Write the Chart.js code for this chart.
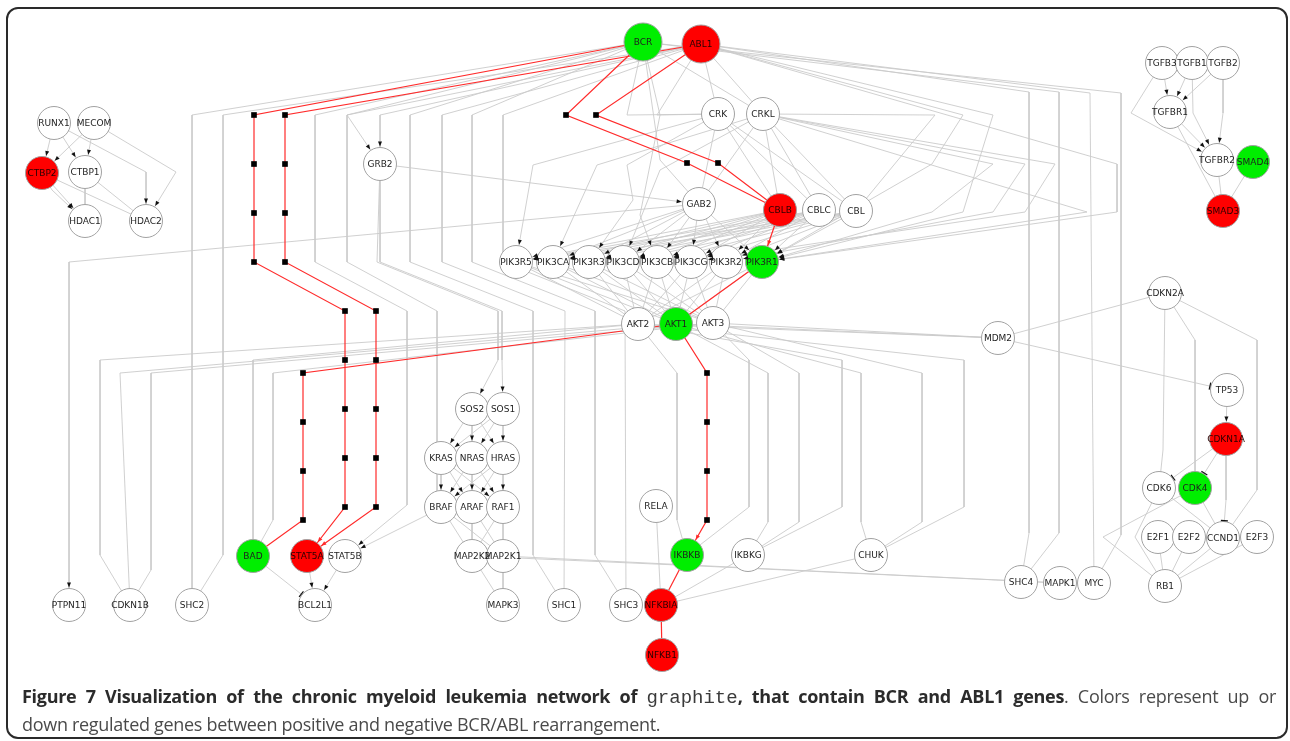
<!DOCTYPE html>
<html>
<head>
<meta charset="utf-8">
<script src="https://cdn.jsdelivr.net/npm/chart.js@4.4.1/dist/chart.umd.min.js"></script>
<style>
  body { margin: 0; background: #fff; width: 1290px; height: 741px; overflow: hidden; position: relative; }
  #net { position: absolute; left: 0; top: 0; }
  #frame { position: absolute; left: 6px; top: 7px; width: 1282px; height: 732px; box-sizing: border-box;
           border: 2px solid #2a2a2a; border-radius: 12px; pointer-events: none; }
  #caption { position: absolute; left: 22px; top: 683px; width: 1254px; font-family: "Open Sans", sans-serif;
             font-size: 18px; line-height: 26px; color: #4a4a4a; letter-spacing: -0.3px; }
  #caption .l1 { text-align: justify; text-align-last: justify; }
  #caption b { color: #2b2b2b; font-weight: 700; }
  #caption .mono { font-family: "Liberation Mono", monospace; font-weight: 400; color: #3a3a3a; font-size: 19px; letter-spacing: 0; }
</style>
</head>
<body>
<canvas id="net" width="1290" height="741"></canvas>
<div id="frame"></div>
<div id="caption">
  <div class="l1"><b>Figure 7 Visualization of the chronic myeloid leukemia network of <span class="mono">graphite</span>, that contain BCR and ABL1 genes</b>. Colors represent up or</div>
  <div class="l2">down regulated genes between positive and negative BCR/ABL rearrangement.</div>
</div>
<script>
// Nodes of the network (positions)
const nodeNames = [
  'BCR', 'ABL1',
  'RUNX1', 'MECOM', 'CTBP2', 'CTBP1', 'HDAC1', 'HDAC2',
  'GRB2', 'CRK', 'CRKL', 'GAB2', 'CBLB', 'CBLC', 'CBL',
  'PIK3R5', 'PIK3CA', 'PIK3R3', 'PIK3CD', 'PIK3CB', 'PIK3CG', 'PIK3R2', 'PIK3R1',
  'AKT2', 'AKT1', 'AKT3', 'MDM2',
  'CDKN2A', 'TP53', 'CDKN1A', 'CDK6', 'CDK4', 'E2F1', 'E2F2', 'CCND1', 'E2F3', 'RB1',
  'SHC4', 'MAPK1', 'MYC', 'CHUK', 'IKBKG', 'IKBKB', 'RELA', 'NFKBIA', 'NFKB1',
  'SHC3', 'SHC1', 'MAPK3', 'MAP2K2', 'MAP2K1', 'BRAF', 'ARAF', 'RAF1',
  'KRAS', 'NRAS', 'HRAS', 'SOS2', 'SOS1',
  'BAD', 'STAT5A', 'STAT5B', 'BCL2L1', 'PTPN11', 'CDKN1B', 'SHC2',
  'TGFB3', 'TGFB1', 'TGFB2', 'TGFBR1', 'TGFBR2', 'SMAD4', 'SMAD3'
];
const nodeX = [
  643, 701,
  54, 94, 42, 85, 85, 146,
  380, 718, 763, 699, 780, 819, 856,
  516, 553, 589, 623, 657, 691, 726, 762,
  638, 676, 713, 998,
  1165, 1227, 1226, 1159, 1195, 1158, 1189, 1223, 1257, 1165,
  1021, 1060, 1094, 871, 748, 687, 656, 661, 662,
  626, 564, 503, 472, 503, 441, 472, 503,
  441, 472, 503, 472, 503,
  253, 307, 345, 315, 69, 130, 192,
  1162, 1192, 1223, 1170, 1217, 1253, 1223
];
const nodeY = [
  42, 44,
  123, 123, 173, 172, 221, 221,
  164, 114, 114, 204, 210, 210, 211,
  262, 262, 262, 262, 262, 262, 262, 262,
  324, 324, 323, 338,
  293, 390, 439, 488, 488, 537, 537, 538, 537, 586,
  582, 583, 583, 555, 555, 555, 506, 605, 655,
  605, 605, 605, 556, 556, 507, 507, 507,
  458, 458, 458, 409, 409,
  556, 556, 556, 605, 605, 605, 605,
  63, 63, 63, 112, 160, 162, 211
];
// 1 = red, -1 = green, 0 = not regulated
const nodeReg = [
  -1, 1,
  0, 0, 1, 0, 0, 0,
  0, 0, 0, 0, 1, 0, 0,
  0, 0, 0, 0, 0, 0, 0, -1,
  0, -1, 0, 0,
  0, 0, 1, 0, -1, 0, 0, 0, 0, 0,
  0, 0, 0, 0, 0, -1, 0, 1, 1,
  0, 0, 0, 0, 0, 0, 0, 0,
  0, 0, 0, 0, 0,
  -1, 1, 0, 0, 0, 0, 0,
  0, 0, 0, 0, 0, -1, 1
];

// Edges: [from, to, kind, bend points]; kind '>' activation, '|' inhibition, '-' plain
const redEdges = [
  ['BCR', 'STAT5A', '>', [[254,115],[254,164],[254,213],[254,262],[345,311],[345,360],[345,409],[345,458],[345,507]]],
  ['ABL1', 'STAT5A', '>', [[285,115],[285,164],[285,213],[285,262],[376,311],[376,360],[376,409],[376,458],[376,507]]],
  ['BCR', 'CBLB', '-', [[566,115],[687,163]]],
  ['ABL1', 'CBLB', '-', [[596,115],[718,163]]],
  ['CBLB', 'PIK3R1', '>'],
  ['PIK3R1', 'AKT1', '-'],
  ['AKT1', 'BAD', '-', [[303,373],[303,422],[303,471],[303,520]]],
  ['AKT1', 'IKBKB', '>', [[707,373],[707,422],[707,471],[707,520]]],
  ['IKBKB', 'NFKBIA', '-'],
  ['NFKBIA', 'NFKB1', '-']
];

const pik3 = ['PIK3R5', 'PIK3CA', 'PIK3R3', 'PIK3CD', 'PIK3CB', 'PIK3CG', 'PIK3R2', 'PIK3R1'];
const akts = ['AKT2', 'AKT1', 'AKT3'];
const cbls = ['CBLB', 'CBLC', 'CBL'];
const rasGenes = ['KRAS', 'NRAS', 'HRAS'];
const rafGenes = ['BRAF', 'ARAF', 'RAF1'];

const grayEdges = [
  // CTBP / HDAC cluster
  ['RUNX1','CTBP2','>'], ['RUNX1','CTBP1','>'], ['RUNX1','HDAC2','>',[[146,172]]],
  ['MECOM','CTBP2','>'], ['MECOM','CTBP1','>'], ['MECOM','HDAC2','>',[[176,172]]],
  ['CTBP2','HDAC1','>'], ['CTBP2','HDAC1','>',[[52,190]]], ['CTBP1','HDAC1','-'],
  ['CTBP2','HDAC2','-'], ['CTBP1','HDAC2','-'],
  // BCR / ABL1 fan to the left
  ['BCR','SHC2','-',[[192,115]]],
  ['ABL1','SHC2','-',[[223,115],[223,555]]],
  ['BCR','STAT5B','>',[[315,115],[315,262],[407,311],[407,505]]],
  ['ABL1','STAT5B','>',[[347,115],[347,262],[437,311],[437,510]]],
  ['BCR','GRB2','>',[[347,115]]],
  ['ABL1','GRB2','>',[[380,115]]],
  ['BCR','SHC1','-',[[410,115],[410,262],[533,311],[533,555]]],
  ['ABL1','SHC1','-',[[442,115],[442,262],[565,311]]],
  ['BCR','SHC3','-',[[472,115],[472,262],[595,311],[595,555]]],
  ['ABL1','SHC3','-',[[503,115],[503,262],[625,311]]],
  // GRB2 / GAB2
  ['GRB2','GAB2','>'],
  ['GRB2','SOS2','>',[[377,262],[498,311],[498,360]]],
  ['GRB2','SOS1','>',[[380,262],[502,311],[502,360]]],
  ['GAB2','PTPN11','>',[[69,262]]],
  // BCR / ABL1 to CRK, CRKL
  ['BCR','CRK','-',[[627,115]]], ['BCR','CRKL','-'], ['ABL1','CRK','-'], ['ABL1','CRKL','-'],
  ['ABL1','CRK','-',[[657,115]]], ['BCR','GAB2','-',[[660,160]]],
  ['CRK','GAB2','-'], ['CRKL','GAB2','-'],
  ['CRK','CBLB','-'], ['CRK','CBLC','-'], ['CRK','CBL','-'],
  ['CRKL','CBLB','-'], ['CRKL','CBLC','-'], ['CRKL','CBL','-'],
  ['CRK','PIK3R5','>',[[533,165]]], ['CRKL','PIK3CA','>',[[597,165]]],
  ['CRK','PIK3R3','>',[[627,165],[633,200]]], ['CRKL','PIK3CD','>',[[660,170]]],
  ['BCR','PIK3CB','>',[[660,115],[640,215]]],
  // loops on the right back into PIK3R1 / PIK3R2
  ['ABL1','PIK3R1','>',[[963,115],[932,164]]],
  ['ABL1','PIK3R1','>',[[993,115],[963,212]]],
  ['CRKL','PIK3R1','>',[[993,164],[932,212]]],
  ['CRKL','PIK3R2','>',[[1025,164],[993,212]]],
  ['CRKL','PIK3CG','>',[[1055,164],[1025,212]]],
  ['ABL1','PIK3R1','>',[[1117,164],[1117,212]]],
  ['CRKL','PIK3R1','>',[[1087,212]]],
  ['CRKL','CBL','-',[[935,115]]],
  // BCR / ABL1 fan to the right
  ['ABL1','SHC4','-',[[1029,92],[1029,533]]],
  ['BCR','SHC4','-',[[1059,92],[1059,533]]],
  ['ABL1','MYC','-',[[1090,93]]],
  ['BCR','MYC','-',[[1121,93],[1121,535]]],
  // AKT targets
  ['AKT2','CDKN1B','-',[[100,360],[100,555]]],
  ['AKT1','CDKN1B','-',[[120,373]]],
  ['AKT3','CDKN1B','-',[[151,373],[151,570]]],
  ['AKT2','BAD','-',[[253,360]]],
  ['AKT3','BAD','-',[[273,373],[273,520]]],
  ['AKT2','IKBKB','-',[[677,373],[677,520]]],
  ['AKT3','IKBKB','-',[[749,360],[749,507]]],
  ['AKT1','IKBKG','-',[[768,373],[768,522]]],
  ['AKT3','IKBKG','-',[[799,373],[799,522]]],
  ['AKT2','IKBKG','-',[[842,360],[842,507]]],
  ['AKT1','CHUK','-',[[861,373],[861,522]]],
  ['AKT3','CHUK','-',[[922,373],[922,522]]],
  ['AKT2','CHUK','-',[[964,360],[964,507]]],
  ['AKT1','MDM2','-'], ['AKT2','MDM2','-'], ['AKT3','MDM2','-'],
  // MAPK cascade
  ['MAP2K2','MAPK3','-'], ['MAP2K1','MAPK3','-'],
  ['MAP2K1','MAPK1','-'], ['MAP2K2','MAPK1','-',[[700,566]]],
  // NF-kB
  ['RELA','NFKBIA','-'], ['IKBKG','NFKBIA','-'], ['CHUK','NFKBIA','-'],
  // STAT5 / BCL2L1
  ['STAT5A','BCL2L1','>'], ['STAT5B','BCL2L1','>'], ['BAD','BCL2L1','|'],
  // p53 / cell cycle
  ['CDKN2A','MDM2','-'], ['MDM2','TP53','|'], ['TP53','CDKN1A','>'],
  ['CDKN2A','CDK6','-',[[1163,450]]], ['CDKN2A','CDK4','-',[[1195,340]]],
  ['CDKN2A','CCND1','-',[[1257,340],[1257,490]]],
  ['CDKN1A','CDK6','|'], ['CDKN1A','CDK4','|'], ['CDKN1A','CCND1','|',[[1226,500]]],
  ['CDK6','CCND1','-'], ['CDK4','CCND1','-'],
  ['CDK6','RB1','-',[[1135,537]]], ['CDK4','RB1','-',[[1103,537]]],
  ['CCND1','RB1','-'], ['E2F1','RB1','-'], ['E2F2','RB1','-'], ['E2F3','RB1','-'],
  // TGF-beta
  ['TGFB3','TGFBR1','>'], ['TGFB1','TGFBR1','>'], ['TGFB2','TGFBR1','>'],
  ['TGFB3','TGFBR2','>',[[1131,113]]], ['TGFB1','TGFBR2','>',[[1193,113]]], ['TGFB2','TGFBR2','>',[[1223,113]]],
  ['TGFBR1','TGFBR2','>'], ['TGFBR1','SMAD3','-'], ['TGFBR2','SMAD3','-'], ['SMAD4','SMAD3','-']
];

// dense groups: GAB2 and CBLs to every PIK3, every PIK3 to every AKT
pik3.forEach(p => grayEdges.push(['GAB2', p, '>']));
cbls.forEach(c => pik3.forEach(p => { if (!(c === 'CBLB' && p === 'PIK3R1')) grayEdges.push([c, p, '>']); }));
pik3.forEach(p => akts.forEach(a => grayEdges.push([p, a, '-'])));
['SOS2', 'SOS1'].forEach(s => rasGenes.forEach(r => grayEdges.push([s, r, '>'])));
rasGenes.forEach(r => rafGenes.forEach(f => grayEdges.push([r, f, '>'])));
rafGenes.forEach(f => ['MAP2K2', 'MAP2K1'].forEach(m => grayEdges.push([f, m, '-'])));

const nodeIndex = {};
nodeNames.forEach((n, i) => nodeIndex[n] = i);

function pt(name) {
  const i = nodeIndex[name];
  return { x: nodeX[i], y: nodeY[i] };
}

function radiusOf(name) {
  return (name === 'BCR' || name === 'ABL1') ? 19 : 16.5;
}

function edgeDataset(e, red) {
  const [from, to, kind, via] = e;
  const pts = [pt(from)].concat((via || []).map(p => ({ x: p[0], y: p[1] }))).concat([pt(to)]);
  return {
    data: pts,
    showLine: true,
    borderColor: red ? '#ff2b2b' : '#cbcbcb',
    borderWidth: red ? 1.2 : 0.9,
    pointRadius: pts.map((p, i) => (red && i > 0 && i < pts.length - 1) ? 4 : 0),
    pointStyle: 'rect',
    pointBackgroundColor: '#000',
    pointBorderWidth: 0,
    order: red ? 1 : 2,
    edgeTo: to,
    edgeKind: kind,
    markColor: red ? '#ff2b2b' : '#111'
  };
}

const datasets = [{
  data: nodeNames.map(pt),
  pointRadius: nodeNames.map(radiusOf),
  pointBackgroundColor: nodeReg.map(r => r > 0 ? '#ff0000' : (r < 0 ? '#00ee00' : '#ffffff')),
  pointBorderColor: '#a2a2a2',
  pointBorderWidth: 1,
  showLine: false,
  order: 0
}];
redEdges.forEach(e => datasets.push(edgeDataset(e, true)));
grayEdges.forEach(e => datasets.push(edgeDataset(e, false)));

// arrow heads, inhibition bars and node labels
const overlayPlugin = {
  id: 'overlay',
  afterDatasetsDraw(chart) {
    const ctx = chart.ctx;
    const xs = chart.scales.x, ys = chart.scales.y;
    chart.data.datasets.forEach(ds => {
      if (!ds.edgeKind || ds.edgeKind === '-') return;
      const n = ds.data.length;
      const ax = xs.getPixelForValue(ds.data[n - 2].x), ay = ys.getPixelForValue(ds.data[n - 2].y);
      const bx = xs.getPixelForValue(ds.data[n - 1].x), by = ys.getPixelForValue(ds.data[n - 1].y);
      const ang = Math.atan2(by - ay, bx - ax);
      const r = radiusOf(ds.edgeTo) + 1;
      ctx.save();
      ctx.translate(bx - Math.cos(ang) * r, by - Math.sin(ang) * r);
      ctx.rotate(ang);
      if (ds.edgeKind === '>') {
        ctx.beginPath();
        ctx.moveTo(0, 0);
        ctx.lineTo(-5, -2);
        ctx.lineTo(-5, 2);
        ctx.closePath();
        ctx.fillStyle = ds.markColor;
        ctx.fill();
      } else {
        ctx.beginPath();
        ctx.moveTo(0, -3.5);
        ctx.lineTo(0, 3.5);
        ctx.strokeStyle = ds.markColor;
        ctx.lineWidth = 1.2;
        ctx.stroke();
      }
      ctx.restore();
    });

    ctx.save();
    ctx.font = '9px "DejaVu Sans", sans-serif';
    ctx.textAlign = 'center';
    ctx.textBaseline = 'middle';
    nodeNames.forEach((n, i) => {
      ctx.fillStyle = nodeReg[i] > 0 ? '#2a0000' : '#1e1e1e';
      ctx.fillText(n, xs.getPixelForValue(nodeX[i]), ys.getPixelForValue(nodeY[i]) + 0.5);
    });
    ctx.restore();
  }
};

new Chart(document.getElementById('net').getContext('2d'), {
  type: 'scatter',
  data: { datasets: datasets },
  options: {
    responsive: false,
    animation: false,
    events: [],
    layout: { padding: 0, autoPadding: false },
    plugins: { legend: { display: false }, tooltip: { enabled: false } },
    scales: {
      x: { type: 'linear', min: 0, max: 1290, display: false },
      y: { type: 'linear', min: 0, max: 741, reverse: true, display: false }
    }
  },
  plugins: [overlayPlugin]
});
</script>
</body>
</html>
